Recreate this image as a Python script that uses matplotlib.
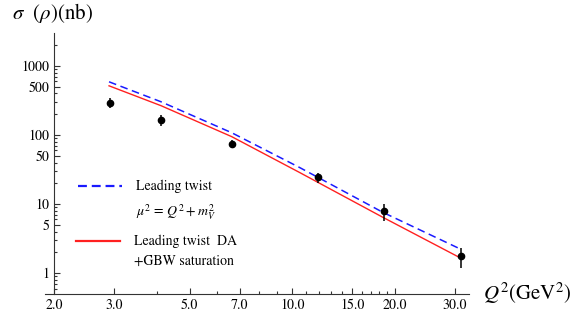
import numpy as np
import matplotlib
matplotlib.use("Agg")
import matplotlib.pyplot as plt
from matplotlib.lines import Line2D
from matplotlib.ticker import FixedLocator, FixedFormatter, NullFormatter

plt.rcParams['font.family'] = ['STIXGeneral', 'Liberation Serif', 'DejaVu Serif']
plt.rcParams['mathtext.fontset'] = 'stix'

# data points (Q^2 in GeV^2, sigma in nb)
q2_data = [2.92, 4.12, 6.65, 11.9, 18.6, 31.3]
sigma_data = [293, 167, 75, 24.3, 7.85, 1.76]
sigma_err = [50, 30, 10, 4, 2.1, 0.57]

# theory curves
q2_curve = [2.90, 4.12, 6.64, 10.5, 18.44, 31.2]
leading_twist = [590, 303, 108, 33.9, 7.59, 2.22]
twist_gbw = [516, 266, 94.8, 28.7, 6.43, 1.65]

x_ticks = [2.0, 3.0, 5.0, 7.0, 10.0, 15.0, 20.0, 30.0]
x_minor = [4, 6, 8, 9, 11, 12, 13, 14, 16, 17, 18, 19]
y_ticks = [1, 5, 10, 50, 100, 500, 1000]
y_tick_labels = ['1', '5', '10', '50', '100', '500', '1000']

W, H = 574, 322
fig = plt.figure(figsize=(W / 100, H / 100), dpi=100)
ax = fig.add_axes([45 / W, 1 - 294 / H, (469 - 45) / W, (294 - 33) / H])

ax.plot(q2_curve, leading_twist, color='#1a1aff', lw=1.1, dashes=(5, 3))
ax.plot(q2_curve, twist_gbw, color='#ff2020', lw=1.0)
ax.errorbar(q2_data, sigma_data, yerr=sigma_err, fmt='o', color='black',
            ms=4.5, elinewidth=1.1, capsize=0)

ax.set_xscale('log')
ax.set_yscale('log')
ax.set_xlim(1.882, 32.96)
ax.set_ylim(0.5, 3000)

for s in ['top', 'right']:
    ax.spines[s].set_visible(False)
ax.spines['left'].set_position(('data', 2.0))
for s in ['left', 'bottom']:
    ax.spines[s].set_color('#333333')
    ax.spines[s].set_linewidth(0.8)

ax.xaxis.set_major_locator(FixedLocator(x_ticks))
ax.xaxis.set_major_formatter(FixedFormatter(['%.1f' % v for v in x_ticks]))
ax.xaxis.set_minor_locator(FixedLocator(x_minor))
ax.xaxis.set_minor_formatter(NullFormatter())
ax.yaxis.set_major_locator(FixedLocator(y_ticks))
ax.yaxis.set_major_formatter(FixedFormatter(y_tick_labels))
y_minor = [m * 10.0 ** e for e in range(-1, 4) for m in (2, 3, 4, 6, 7, 8, 9)]
ax.yaxis.set_minor_locator(FixedLocator([v for v in y_minor if 0.5 < v < 3000]))
ax.yaxis.set_minor_formatter(NullFormatter())
ax.tick_params(which='both', direction='in', color='#333333', width=0.8,
               labelsize=10, pad=3)
ax.tick_params(which='major', length=4)
ax.tick_params(which='minor', length=2)

fig.text(12 / W, 1 - 13 / H, r'$\sigma$  ($\rho$)(nb)', fontsize=15, va='center')
fig.text(483 / W, 1 - 293 / H, r'$Q^2$(GeV$^2$)', fontsize=15, va='center')

blank = Line2D([], [], color='none')
leg1 = ax.legend([Line2D([], [], color='#1a1aff', lw=1.6, dashes=(4, 2.2)), blank],
                 ['Leading twist', r'$\mu^2\,=\,Q^2+m_V^2$'],
                 loc='upper left', bbox_to_anchor=(78 / W, 1 - 180 / H),
                 bbox_transform=fig.transFigure, frameon=False, borderpad=0,
                 borderaxespad=0, handlelength=3.2, handletextpad=0.95,
                 labelspacing=0.65, fontsize=10)
ax.add_artist(leg1)
ax.legend([Line2D([], [], color='#ff2020', lw=1.6), blank],
          ['Leading twist  DA', '+GBW saturation'],
          loc='upper left', bbox_to_anchor=(76 / W, 1 - 235 / H),
          bbox_transform=fig.transFigure, frameon=False, borderpad=0,
          borderaxespad=0, handlelength=3.2, handletextpad=0.95,
          labelspacing=0.45, fontsize=10)

fig.savefig('out.png', dpi=100)
